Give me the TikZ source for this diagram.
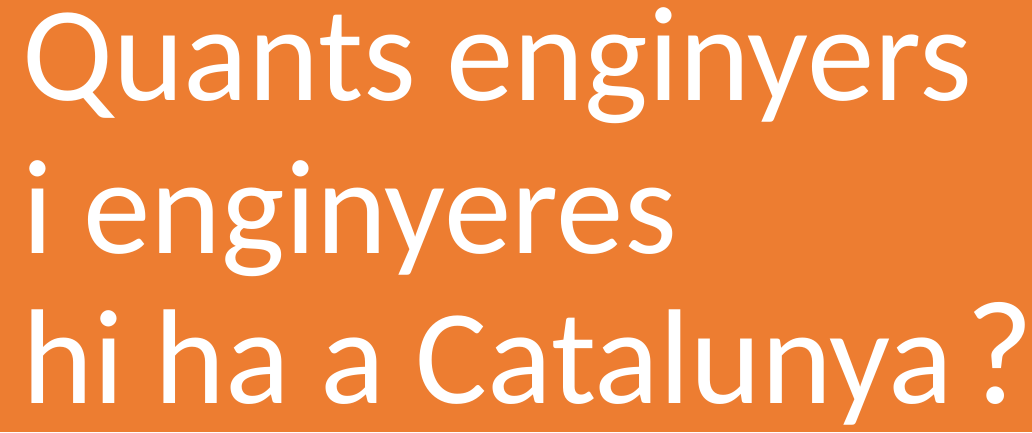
\documentclass[tikz,border=0pt]{standalone}
\usepackage{fontspec}
\setmainfont{Carlito}
\definecolor{bgorange}{HTML}{ED7D31}
\tikzset{line/.style={anchor=base west,inner sep=0pt,text=white,font=\fontsize{135}{135}\selectfont}}
\begin{document}
\begin{tikzpicture}[x=1pt,y=1pt]
\fill[bgorange] (0,0) rectangle (1032,432);
\useasboundingbox (0,0) rectangle (1032,432);
\node[line] (l1) at (22,332) {Quants enginyers};
\node[line] (l2) at (22,179) {i enginyeres};
\node[line] (l3) at (22,29) {hi ha a Catalunya\kern12pt{\fontsize{148}{148}\selectfont ?}};
\end{tikzpicture}
\end{document}
